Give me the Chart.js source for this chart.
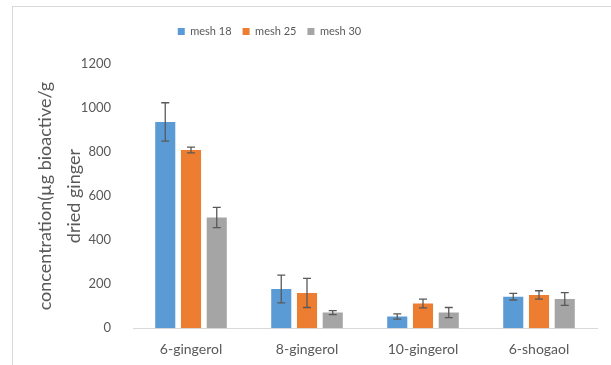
<!DOCTYPE html>
<html>
<head>
<meta charset="utf-8">
<script src="https://cdn.jsdelivr.net/npm/chart.js@4"></script>
<style>
  body { margin: 0; background: #fff; }
  #frame {
    position: absolute; left: 12px; top: 6px; width: 599px; height: 359px;
    border-left: 1px solid #d9d9d9; border-top: 1px solid #d9d9d9;
  }
</style>
</head>
<body>
<div id="frame"><canvas id="chart"></canvas></div>
<script>
// compounds and the three particle sizes
const compuestos = ['6-gingerol', '8-gingerol', '10-gingerol', '6-shogaol'];
const series = ['mesh 18', 'mesh 25', 'mesh 30'];

// mean concentration (µg bioactive / g dried ginger)
const mesh18 = [937, 178, 53, 143];
const mesh25 = [809, 160, 112, 151];
const mesh30 = [503, 71, 71, 133];

// standard deviation for each mean
const err18 = [87, 63, 12, 15];
const err25 = [13, 66, 20, 19];
const err30 = [46, 9, 23, 29];

const colores = ['#5b9bd5', '#ed7d31', '#a5a5a5'];
const gris = '#595959';
const fuente = 'Lato, "Open Sans", sans-serif';

// error bars drawn on top of each bar using the y scale
const barrasError = {
    id: 'barrasError',
    afterDatasetsDraw(chart) {
        const ctx = chart.ctx;
        const y = chart.scales.y;
        ctx.save();
        ctx.strokeStyle = gris;
        ctx.lineWidth = 1.3;
        chart.data.datasets.forEach((ds, i) => {
            const meta = chart.getDatasetMeta(i);
            meta.data.forEach((bar, j) => {
                const v = ds.data[j];
                const e = ds.errores[j];
                const yTop = y.getPixelForValue(v + e);
                const yBot = y.getPixelForValue(v - e);
                const x = bar.x;
                ctx.beginPath();
                ctx.moveTo(x, yTop); ctx.lineTo(x, yBot);
                ctx.moveTo(x - 4, yTop); ctx.lineTo(x + 4, yTop);
                ctx.moveTo(x - 4, yBot); ctx.lineTo(x + 4, yBot);
                ctx.stroke();
            });
        });
        ctx.restore();
    }
};

// extra room below the legend, and the legend sits a bit left of centre
const margenLeyenda = {
    id: 'margenLeyenda',
    beforeInit(chart) {
        const fit = chart.legend.fit;
        chart.legend.fit = function () {
            fit.bind(chart.legend)();
            this.height += 17;
        };
    },
    afterLayout(chart) {
        chart.legend.left -= 42;
        chart.legend.right -= 42;
    }
};

const ctx = document.getElementById('chart').getContext('2d');
new Chart(ctx, {
    type: 'bar',
    data: {
        labels: compuestos,
        datasets: [
            { label: series[0], data: mesh18, errores: err18, backgroundColor: colores[0] },
            { label: series[1], data: mesh25, errores: err25, backgroundColor: colores[1] },
            { label: series[2], data: mesh30, errores: err30, backgroundColor: colores[2] }
        ]
    },
    options: {
        responsive: true,
        maintainAspectRatio: false,
        animation: false,
        categoryPercentage: 0.666,
        barPercentage: 0.78,
        layout: { padding: { left: 13, right: 15, top: 8, bottom: 3 } },
        plugins: {
            legend: {
                position: 'top',
                labels: {
                    boxWidth: 7, boxHeight: 7, padding: 11,
                    color: gris,
                    font: { family: fuente, size: 11 }
                }
            },
            tooltip: { enabled: false }
        },
        scales: {
            x: {
                grid: { display: false },
                border: { color: '#d9d9d9' },
                ticks: { color: gris, font: { family: fuente, size: 14 }, padding: 5 }
            },
            y: {
                min: 0,
                max: 1200,
                afterFit: s => { s.width = 107; },
                ticks: {
                    stepSize: 200, color: gris, padding: 14,
                    font: { family: fuente, size: 13 },
                    callback: v => String(v)
                },
                grid: { display: false },
                border: { display: false },
                title: {
                    display: true,
                    text: ['concentration(µg bioactive/g', 'dried ginger'],
                    color: gris,
                    font: { family: fuente, size: 18, lineHeight: 1.65 }
                }
            }
        }
    },
    plugins: [barrasError, margenLeyenda]
});
</script>
</body>
</html>
